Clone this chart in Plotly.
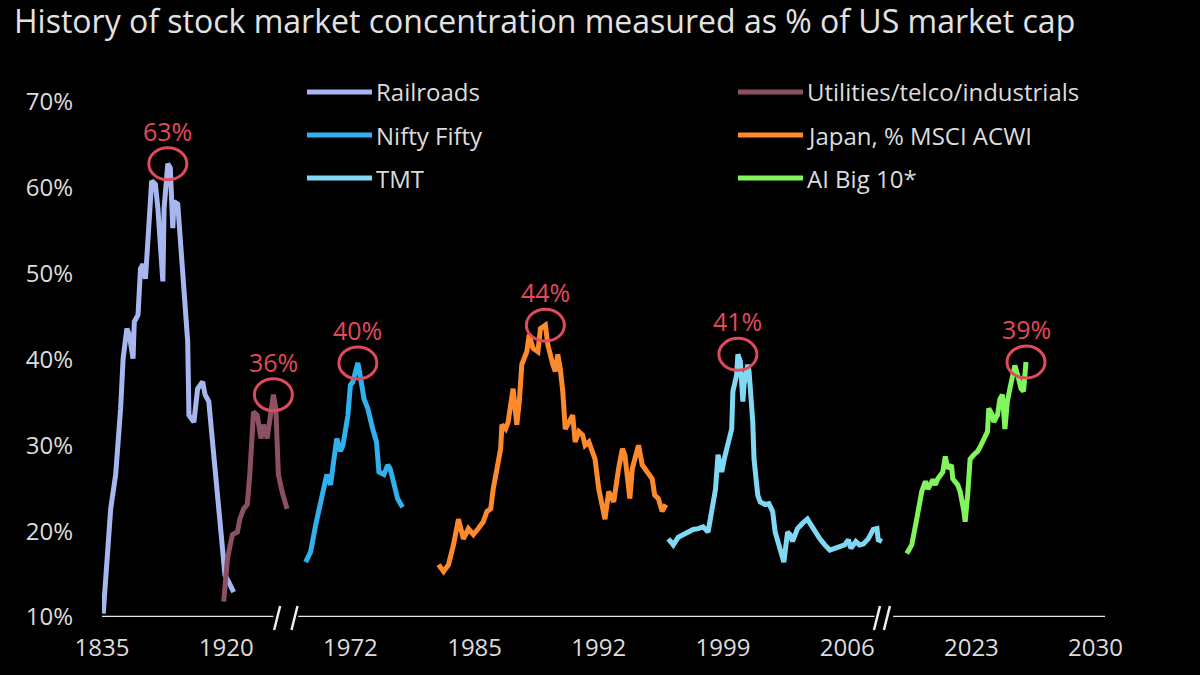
import plotly.graph_objects as go

# Broken x axis: one unit per tick label, series placed along it.
TICK_LABELS = ["1835", "1920", "1972", "1985", "1992", "1999", "2006", "2023", "2030"]
Y_TICKS = [10, 20, 30, 40, 50, 60, 70]

railroads_x = [0.01, 0.03, 0.07, 0.11, 0.15, 0.17, 0.20, 0.22, 0.25, 0.26, 0.29, 0.31, 0.33, 0.35,
               0.37, 0.40, 0.43, 0.45, 0.49, 0.50, 0.53, 0.55, 0.57, 0.58, 0.61, 0.62, 0.65, 0.67,
               0.69, 0.70, 0.74, 0.77, 0.81, 0.83, 0.86, 0.89, 0.93, 0.97, 0.99, 1.02, 1.06]
railroads_y = [10.4, 14.9, 22.6, 26.6, 34.3, 40.1, 43.6, 42.9, 40.1, 44.4, 45.2, 50.6, 51.1, 49.4,
               53.8, 60.8, 60.4, 57.6, 49.1, 57.6, 62.8, 62.3, 55.3, 58.4, 58.1, 56.1, 48.3, 45.9,
               42.1, 33.5, 32.7, 36.6, 37.4, 35.9, 35.1, 30.4, 24.6, 18.8, 14.9, 14.1, 12.9]

utilities_x = [0.98, 1.01, 1.05, 1.09, 1.11, 1.14, 1.17, 1.19, 1.22, 1.25, 1.28, 1.30, 1.33, 1.36,
               1.38, 1.40, 1.42, 1.45, 1.48, 1.49]
utilities_y = [11.8, 16.8, 19.6, 19.9, 21.4, 22.6, 23.1, 26.6, 33.9, 33.5, 30.8, 32.4, 30.8, 33.5,
               35.9, 34.3, 26.6, 24.6, 23.4, 22.6]

nifty_x = [1.64, 1.68, 1.72, 1.76, 1.78, 1.81, 1.84, 1.85, 1.87, 1.89, 1.92, 1.94, 1.98, 2.00, 2.02,
           2.06, 2.07, 2.09, 2.11, 2.14, 2.16, 2.18, 2.21, 2.23, 2.27, 2.30, 2.32, 2.35, 2.38, 2.42]
nifty_y = [16.4, 17.6, 20.7, 23.1, 24.9, 26.6, 25.4, 26.6, 29.3, 30.8, 29.3, 30.0, 33.5, 37.0, 37.4,
           39.6, 38.9, 36.6, 35.4, 34.3, 32.7, 31.9, 30.4, 26.9, 26.6, 27.7, 27.3, 25.4, 23.8, 22.8]

japan_x = [2.71, 2.75, 2.79, 2.83, 2.87, 2.91, 2.95, 2.99, 3.03, 3.07, 3.10, 3.13, 3.15, 3.18, 3.21,
           3.22, 3.25, 3.27, 3.30, 3.31, 3.34, 3.36, 3.38, 3.42, 3.44, 3.47, 3.51, 3.53, 3.57, 3.59,
           3.63, 3.65, 3.67, 3.69, 3.71, 3.73, 3.76, 3.79, 3.81, 3.84, 3.87, 3.89, 3.92, 3.95, 3.97,
           4.00, 4.03, 4.05, 4.08, 4.10, 4.12, 4.16, 4.19, 4.21, 4.25, 4.27, 4.29, 4.32, 4.35, 4.39,
           4.43, 4.45, 4.48, 4.51, 4.54]
japan_y = [16.1, 15.3, 16.1, 18.4, 21.4, 19.1, 20.3, 19.6, 20.3, 21.1, 22.3, 22.6, 24.9, 27.3, 29.6,
           32.4, 31.9, 32.7, 35.1, 36.6, 32.4, 35.1, 39.4, 40.9, 42.9, 41.3, 40.9, 43.6, 44.0, 41.7,
           39.4, 38.6, 40.6, 38.9, 36.3, 31.9, 32.7, 33.5, 30.4, 31.6, 31.2, 30.0, 30.4, 28.9, 28.4,
           24.9, 22.3, 21.4, 24.6, 23.8, 23.4, 27.3, 29.6, 28.9, 23.8, 27.3, 28.4, 30.0, 27.7, 26.9,
           26.1, 24.2, 23.8, 22.3, 23.1]

tmt_x = [4.56, 4.60, 4.64, 4.68, 4.72, 4.76, 4.80, 4.84, 4.88, 4.91, 4.94, 4.96, 4.99, 5.01, 5.04,
         5.07, 5.08, 5.11, 5.12, 5.14, 5.16, 5.17, 5.20, 5.21, 5.24, 5.25, 5.28, 5.30, 5.34, 5.37,
         5.40, 5.42, 5.45, 5.47, 5.49, 5.52, 5.54, 5.56, 5.60, 5.64, 5.68, 5.71, 5.74, 5.78, 5.82,
         5.86, 5.90, 5.94, 5.98, 6.01, 6.03, 6.07, 6.10, 6.13, 6.17, 6.21, 6.24, 6.25, 6.28]
tmt_y = [19.1, 18.4, 19.3, 19.6, 19.9, 20.2, 20.3, 20.5, 19.9, 22.6, 24.9, 28.9, 26.9, 28.4, 30.4,
         31.9, 36.3, 38.2, 40.6, 39.8, 35.1, 37.1, 39.4, 38.6, 32.7, 28.4, 24.2, 23.4, 23.1, 23.2,
         22.3, 19.9, 18.4, 17.6, 16.4, 19.9, 19.6, 18.8, 20.3, 20.9, 21.4, 20.7, 19.9, 19.1, 18.4,
         17.8, 18.0, 18.2, 18.4, 19.0, 18.0, 18.8, 18.4, 18.5, 19.1, 20.2, 20.3, 19.0, 18.8]

ai_x = [6.48, 6.52, 6.56, 6.60, 6.63, 6.65, 6.69, 6.71, 6.73, 6.77, 6.79, 6.81, 6.84, 6.85, 6.89,
        6.91, 6.94, 6.95, 6.97, 6.99, 7.02, 7.05, 7.07, 7.10, 7.13, 7.14, 7.17, 7.18, 7.21, 7.23,
        7.25, 7.27, 7.29, 7.31, 7.33, 7.35, 7.38, 7.40, 7.42, 7.43, 7.44]
ai_y = [17.4, 18.4, 21.4, 24.6, 25.8, 24.9, 26.0, 25.4, 26.1, 26.9, 28.7, 27.3, 27.7, 26.1, 25.4,
        24.6, 22.3, 21.1, 24.2, 28.4, 28.9, 29.3, 29.8, 30.6, 31.6, 34.3, 33.5, 32.7, 33.5, 35.4,
        35.9, 31.9, 35.1, 36.6, 37.8, 39.3, 37.8, 36.6, 36.3, 38.6, 39.7]

SERIES = [
    ("Railroads", railroads_x, railroads_y, "#a8b6f0", "63%"),
    ("Utilities/telco/industrials", utilities_x, utilities_y, "#8c5064", "36%"),
    ("Nifty Fifty", nifty_x, nifty_y, "#30b0ec", "40%"),
    ("Japan, % MSCI ACWI", japan_x, japan_y, "#ff8a2b", "44%"),
    ("TMT", tmt_x, tmt_y, "#80d9f4", "41%"),
    ("AI Big 10*", ai_x, ai_y, "#80f55c", "39%"),
]

FONT = "Open Sans, Noto Sans, sans-serif"
TXT = "#dcdcdc"
RED = "#e04a5c"
BG = "black"

W, H = 1200, 675
ML, MR, MT, MB = 102, 95, 51, 58
X_MAX = 8.076
Y_MIN, Y_MAX = 10, 75.94


def paper_x(px):
    return (px - ML) / (W - ML - MR)


def paper_y(py):
    return (H - MB - py) / (H - MT - MB)


fig = go.Figure()
shapes = []
annotations = []

for i, (name, xs, ys, color, label) in enumerate(SERIES):
    fig.add_trace(go.Scatter(
        x=xs, y=ys, mode="lines", name=name,
        line=dict(color=color, width=5),
        showlegend=False,
        hovertemplate=name + ": %{y:.1f}%<extra></extra>",
    ))
    # peak marker: red ring around the highest point + label above
    k = ys.index(max(ys))
    shapes.append(dict(
        type="circle", xref="x", yref="y", xsizemode="pixel", ysizemode="pixel",
        xanchor=xs[k], yanchor=ys[k], x0=-19, x1=19, y0=-16, y1=16,
        line=dict(color=RED, width=3),
    ))
    annotations.append(dict(
        x=xs[k], y=ys[k], xref="x", yref="y", text=label, showarrow=False,
        yshift=33, font=dict(family=FONT, size=25, color=RED),
    ))
    # hand-drawn legend: two columns, three rows
    row, col = divmod(i, 2)
    ly = 92 + row * 43
    lx = 307 if col == 0 else 738
    shapes.append(dict(
        type="line", xref="paper", yref="paper",
        x0=paper_x(lx), x1=paper_x(lx + 65), y0=paper_y(ly), y1=paper_y(ly),
        line=dict(color=color, width=5),
    ))
    annotations.append(dict(
        x=paper_x(lx + 67), y=paper_y(ly), xref="paper", yref="paper",
        text=name, showarrow=False, xanchor="left", yanchor="middle",
        font=dict(family=FONT, size=24, color=TXT),
    ))

# x axis line with two breaks
for a, b in [(0, 1.38), (1.58, 6.22), (6.37, X_MAX)]:
    shapes.append(dict(type="line", xref="x", yref="y", x0=a, x1=b, y0=10, y1=10,
                       line=dict(color="#e8e8e8", width=2.5)))
for bx in [1.41, 1.55, 6.24, 6.32]:
    shapes.append(dict(type="line", xref="x", yref="paper", xsizemode="pixel", xanchor=bx,
                       x0=-3, x1=3, y0=paper_y(630), y1=paper_y(606),
                       line=dict(color="#f0f0f0", width=2.5)))

fig.update_layout(
    width=W, height=H,
    paper_bgcolor=BG, plot_bgcolor=BG,
    font=dict(family=FONT, color=TXT),
    margin=dict(l=ML, r=MR, t=MT, b=MB),
    title=dict(
        text="History of stock market concentration measured as % of US market cap",
        x=14 / W, xanchor="left", xref="container",
        y=1 - 22 / H, yanchor="middle", yref="container",
        font=dict(family=FONT, size=32, color="#e2e2e2"),
    ),
    xaxis=dict(
        range=[0, X_MAX], tickvals=list(range(len(TICK_LABELS))), ticktext=TICK_LABELS,
        showgrid=False, zeroline=False, showline=False, ticks="",
        tickfont=dict(family=FONT, size=24, color=TXT), ticklabelstandoff=14,
    ),
    yaxis=dict(
        range=[Y_MIN, Y_MAX], tickvals=Y_TICKS, ticktext=[f"{v}%" for v in Y_TICKS],
        showgrid=False, zeroline=False, showline=False, ticks="",
        tickfont=dict(family=FONT, size=24, color=TXT), ticklabelstandoff=28,
    ),
    shapes=shapes,
    annotations=annotations,
    showlegend=False,
)

# drop the browser's default 8px body margin so the figure sits at the page corner
fig.write_html("out.html", config={"displayModeBar": False},
               post_script="document.body.style.margin='0';")
